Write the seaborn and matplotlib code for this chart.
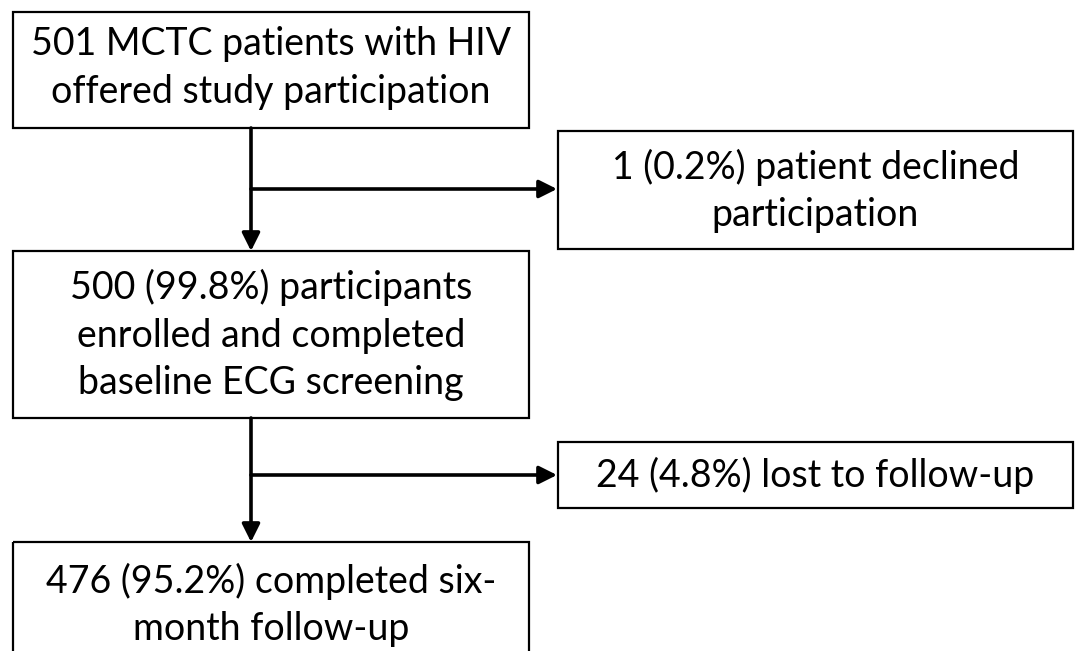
import matplotlib
matplotlib.use("Agg")
import matplotlib.pyplot as plt
from matplotlib.patches import Rectangle
import seaborn as sns

# Flow counts
offered = 501
declined = 1
enrolled = 500
lost = 24
completed = 476

labels = [
    f"{offered} MCTC patients with HIV\noffered study participation",
    f"{declined} ({declined / offered * 100:.1f}%) patient declined\nparticipation",
    f"{enrolled} ({enrolled / offered * 100:.1f}%) participants\nenrolled and completed\nbaseline ECG screening",
    f"{lost} ({lost / enrolled * 100:.1f}%) lost to follow-up",
    f"{completed} ({completed / enrolled * 100:.1f}%) completed six-\nmonth follow-up",
]

# box layout in pixel coords: (left, top, right, bottom, text_y)
boxes = [
    (13, 12, 529, 128, 68),
    (558, 131, 1073, 249, 191),
    (13, 251, 529, 418, 335),
    (558, 442, 1073, 508, 475),
    (13, 542, 529, 670, 605),
]

sns.set_theme(style="white")
plt.rcParams["font.family"] = ["Lato", "DejaVu Sans"]

fig = plt.figure(figsize=(10.76, 6.51), dpi=100)
ax = fig.add_axes([0, 0, 1, 1])
ax.set_xlim(0, 1076)
ax.set_ylim(651, 0)
ax.axis("off")

for (x0, y0, x1, y1, ty), text in zip(boxes, labels):
    ax.add_patch(Rectangle((x0, y0), x1 - x0, y1 - y0, fill=False,
                           edgecolor="black", linewidth=1.6))
    ax.text((x0 + x1) / 2, ty, text, ha="center", va="center",
            fontsize=27, linespacing=1.4, color="black")

spine_x = 251
arrow_kw = dict(arrowstyle="-|>,head_length=0.9,head_width=0.45",
                color="black", lw=2.6, shrinkA=0, shrinkB=0)

# vertical main flow
ax.annotate("", xy=(spine_x, 251), xytext=(spine_x, 128), arrowprops=arrow_kw)
ax.annotate("", xy=(spine_x, 542), xytext=(spine_x, 418), arrowprops=arrow_kw)
# side branches
ax.annotate("", xy=(557, 189), xytext=(spine_x, 189), arrowprops=arrow_kw)
ax.annotate("", xy=(557, 475), xytext=(spine_x, 475), arrowprops=arrow_kw)

fig.savefig("out.png", dpi=100, facecolor="white")
